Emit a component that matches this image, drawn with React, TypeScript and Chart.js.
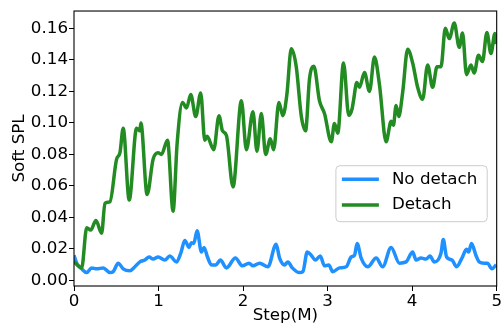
import { useEffect, useRef } from "react";
import { Chart, registerables } from "chart.js";

Chart.register(...registerables);

const seriesLabels = ["No detach", "Detach"];
const seriesColors = ["#1E90FF", "#228B22"];
const xTitle = "Step(M)";
const yTitle = "Soft SPL";
const xTicks = [0, 1, 2, 3, 4, 5];
const yTicks = [0, 0.02, 0.04, 0.06, 0.08, 0.1, 0.12, 0.14, 0.16];

const noDetachSteps = [
  0.0, 0.032, 0.091, 0.15, 0.209, 0.268, 0.346, 0.425, 0.464, 0.523, 0.582, 0.661, 0.72, 0.779, 0.838,
  0.889, 0.936, 0.995, 1.074, 1.133, 1.213, 1.263, 1.311, 1.361, 1.39, 1.417, 1.456, 1.508, 1.538, 1.579,
  1.626, 1.677, 1.732, 1.803, 1.909, 1.992, 2.07, 2.117, 2.196, 2.294, 2.391, 2.432, 2.491, 2.53, 2.582,
  2.668, 2.707, 2.759, 2.806, 2.854, 2.913, 2.963, 3.014, 3.061, 3.14, 3.22, 3.279, 3.318, 3.349, 3.397,
  3.475, 3.574, 3.652, 3.751, 3.849, 3.928, 4.006, 4.046, 4.105, 4.164, 4.211, 4.262, 4.341, 4.368, 4.407,
  4.471, 4.525, 4.589, 4.643, 4.667, 4.702, 4.754, 4.793, 4.852, 4.891, 4.943, 4.994,
];
const noDetachValues = [
  0.016, 0.011, 0.0074, 0.005, 0.008, 0.0074, 0.008, 0.005, 0.0056, 0.011, 0.0074, 0.0062, 0.0087, 0.0118, 0.013,
  0.0149, 0.0136, 0.0149, 0.013, 0.0155, 0.0118, 0.0173, 0.0254, 0.021, 0.024, 0.0235, 0.0316, 0.018, 0.021, 0.0149,
  0.0099, 0.0099, 0.013, 0.008, 0.0142, 0.0093, 0.011, 0.0093, 0.011, 0.0087, 0.023, 0.0142, 0.0099, 0.0118, 0.008,
  0.005, 0.0056, 0.018, 0.016, 0.013, 0.0155, 0.0093, 0.0099, 0.0056, 0.008, 0.0087, 0.0149, 0.016, 0.0235, 0.0142,
  0.0087, 0.0142, 0.0087, 0.021, 0.011, 0.0118, 0.018, 0.013, 0.0142, 0.0136, 0.0155, 0.0118, 0.0173, 0.026, 0.0149,
  0.013, 0.0087, 0.0142, 0.0198, 0.018, 0.0235, 0.016, 0.0118, 0.011, 0.011, 0.0074, 0.0099,
];

const detachSteps = [
  0.0, 0.091, 0.15, 0.197, 0.26, 0.327, 0.366, 0.425, 0.504, 0.543, 0.582, 0.653, 0.74, 0.779, 0.791,
  0.865, 0.936, 0.995, 1.035, 1.106, 1.172, 1.22, 1.283, 1.331, 1.381, 1.44, 1.499, 1.547, 1.574, 1.653,
  1.715, 1.756, 1.803, 1.881, 1.98, 2.039, 2.117, 2.164, 2.216, 2.267, 2.322, 2.361, 2.424, 2.471, 2.518,
  2.57, 2.629, 2.688, 2.739, 2.786, 2.837, 2.904, 2.963, 3.043, 3.081, 3.12, 3.188, 3.25, 3.29, 3.306,
  3.345, 3.377, 3.436, 3.495, 3.554, 3.613, 3.692, 3.751, 3.778, 3.81, 3.841, 3.888, 3.947, 4.006, 4.065,
  4.124, 4.183, 4.242, 4.294, 4.341, 4.392, 4.439, 4.498, 4.557, 4.596, 4.643, 4.695, 4.734, 4.785, 4.832,
  4.884, 4.932, 4.979, 4.997,
];
const detachValues = [
  0.0118, 0.008, 0.0334, 0.032, 0.038, 0.03, 0.049, 0.05, 0.077, 0.081, 0.0966, 0.051, 0.0966, 0.095, 0.1,
  0.0545, 0.077, 0.081, 0.08, 0.089, 0.044, 0.087, 0.113, 0.1095, 0.118, 0.104, 0.119, 0.089, 0.0915, 0.083,
  0.1046, 0.095, 0.092, 0.0594, 0.114, 0.083, 0.107, 0.082, 0.106, 0.08, 0.09, 0.083, 0.113, 0.1046, 0.118,
  0.147, 0.1356, 0.1046, 0.095, 0.128, 0.136, 0.114, 0.106, 0.088, 0.0997, 0.0935, 0.138, 0.1048, 0.109, 0.114,
  0.1256, 0.1226, 0.132, 0.12, 0.1418, 0.1244, 0.088, 0.101, 0.0985, 0.111, 0.104, 0.1195, 0.1467, 0.138, 0.1226,
  0.115, 0.1368, 0.1226, 0.1356, 0.1356, 0.16, 0.1535, 0.1634, 0.148, 0.157, 0.1306, 0.1368, 0.1317, 0.143, 0.1389,
  0.1574, 0.144, 0.1568, 0.15,
];

const FONT = "'DejaVu Sans', sans-serif";
const FS = 16.7;

const framePlugin = {
  id: "frameAndLegend",
  afterDraw(chart: any) {
    const { ctx, chartArea: a } = chart;
    ctx.save();
    ctx.strokeStyle = "#000";
    ctx.lineWidth = 1.1;
    ctx.strokeRect(a.left, a.top, a.right - a.left, a.bottom - a.top);

    // legend box (matplotlib style)
    const w = 151.3;
    const h = 56;
    const left = a.right - 9.5 - w;
    const top = a.bottom - 64.3 - h;
    ctx.beginPath();
    ctx.roundRect(left, top, w, h, 4);
    ctx.fillStyle = "rgba(255,255,255,0.8)";
    ctx.fill();
    ctx.strokeStyle = "#cccccc";
    ctx.lineWidth = 1;
    ctx.stroke();

    const rows = [13.6, 39.3];
    chart.data.datasets.forEach((ds: any, i: number) => {
      const y = top + rows[i];
      ctx.beginPath();
      ctx.moveTo(left + 6, y);
      ctx.lineTo(left + 43, y);
      ctx.strokeStyle = ds.borderColor;
      ctx.lineWidth = ds.borderWidth;
      ctx.lineCap = "butt";
      ctx.stroke();
      ctx.fillStyle = "#000";
      ctx.font = `${FS}px ${FONT}`;
      ctx.textBaseline = "middle";
      ctx.textAlign = "left";
      ctx.fillText(ds.label, left + 56, y);
    });
    ctx.restore();
  },
};

export default function App() {
  const ref = useRef<HTMLCanvasElement | null>(null);

  useEffect(() => {
    if (!ref.current) return;
    const toPoints = (xs: number[], ys: number[]) => xs.map((x, i) => ({ x, y: ys[i] }));
    const chart = new Chart(ref.current, {
      type: "line",
      data: {
        datasets: [
          {
            label: seriesLabels[0],
            data: toPoints(noDetachSteps, noDetachValues),
            borderColor: seriesColors[0],
            borderWidth: 3.5,
            pointRadius: 0,
            cubicInterpolationMode: "monotone",
            fill: false,
            order: 1,
          },
          {
            label: seriesLabels[1],
            data: toPoints(detachSteps, detachValues),
            borderColor: seriesColors[1],
            borderWidth: 3.5,
            pointRadius: 0,
            cubicInterpolationMode: "monotone",
            fill: false,
            order: 0,
          },
        ],
      },
      options: {
        animation: false,
        responsive: false,
        maintainAspectRatio: false,
        layout: { padding: { top: 4.5, right: 5.5, left: 0, bottom: 0 } },
        plugins: { legend: { display: false }, tooltip: { enabled: false } },
        scales: {
          x: {
            type: "linear",
            min: 0,
            max: 5,
            afterBuildTicks: (s: any) => {
              s.ticks = xTicks.map((v) => ({ value: v }));
            },
            afterFit: (s: any) => {
              s.height = 43;
            },
            border: { display: false },
            grid: { drawOnChartArea: false, drawTicks: true, tickLength: 5, color: "#000", lineWidth: 1 },
            ticks: {
              color: "#000",
              font: { family: FONT, size: FS },
              padding: 1,
              maxRotation: 0,
              callback: (v: any) => String(v),
            },
            title: {
              display: true,
              text: xTitle,
              color: "#000",
              font: { family: FONT, size: FS },
              padding: { top: 0, bottom: 3.4 },
            },
          },
          y: {
            type: "linear",
            min: -0.0035,
            max: 0.171,
            afterBuildTicks: (s: any) => {
              s.ticks = yTicks.map((v) => ({ value: v }));
            },
            afterFit: (s: any) => {
              s.width = 74;
            },
            border: { display: false },
            grid: { drawOnChartArea: false, drawTicks: true, tickLength: 5, color: "#000", lineWidth: 1 },
            ticks: {
              color: "#000",
              font: { family: FONT, size: FS },
              padding: 1,
              callback: (v: any) => Number(v).toFixed(2),
            },
            title: {
              display: true,
              text: yTitle,
              color: "#000",
              font: { family: FONT, size: FS },
              padding: { top: 10, bottom: 0 },
            },
          },
        },
      },
      plugins: [framePlugin],
    } as any);
    return () => chart.destroy();
  }, []);

  return (
    <div style={{ position: "fixed", left: 0, top: 0, width: 503, height: 329, background: "#fff" }}>
      <canvas ref={ref} width={503} height={329} style={{ width: 503, height: 329, display: "block" }} />
    </div>
  );
}
